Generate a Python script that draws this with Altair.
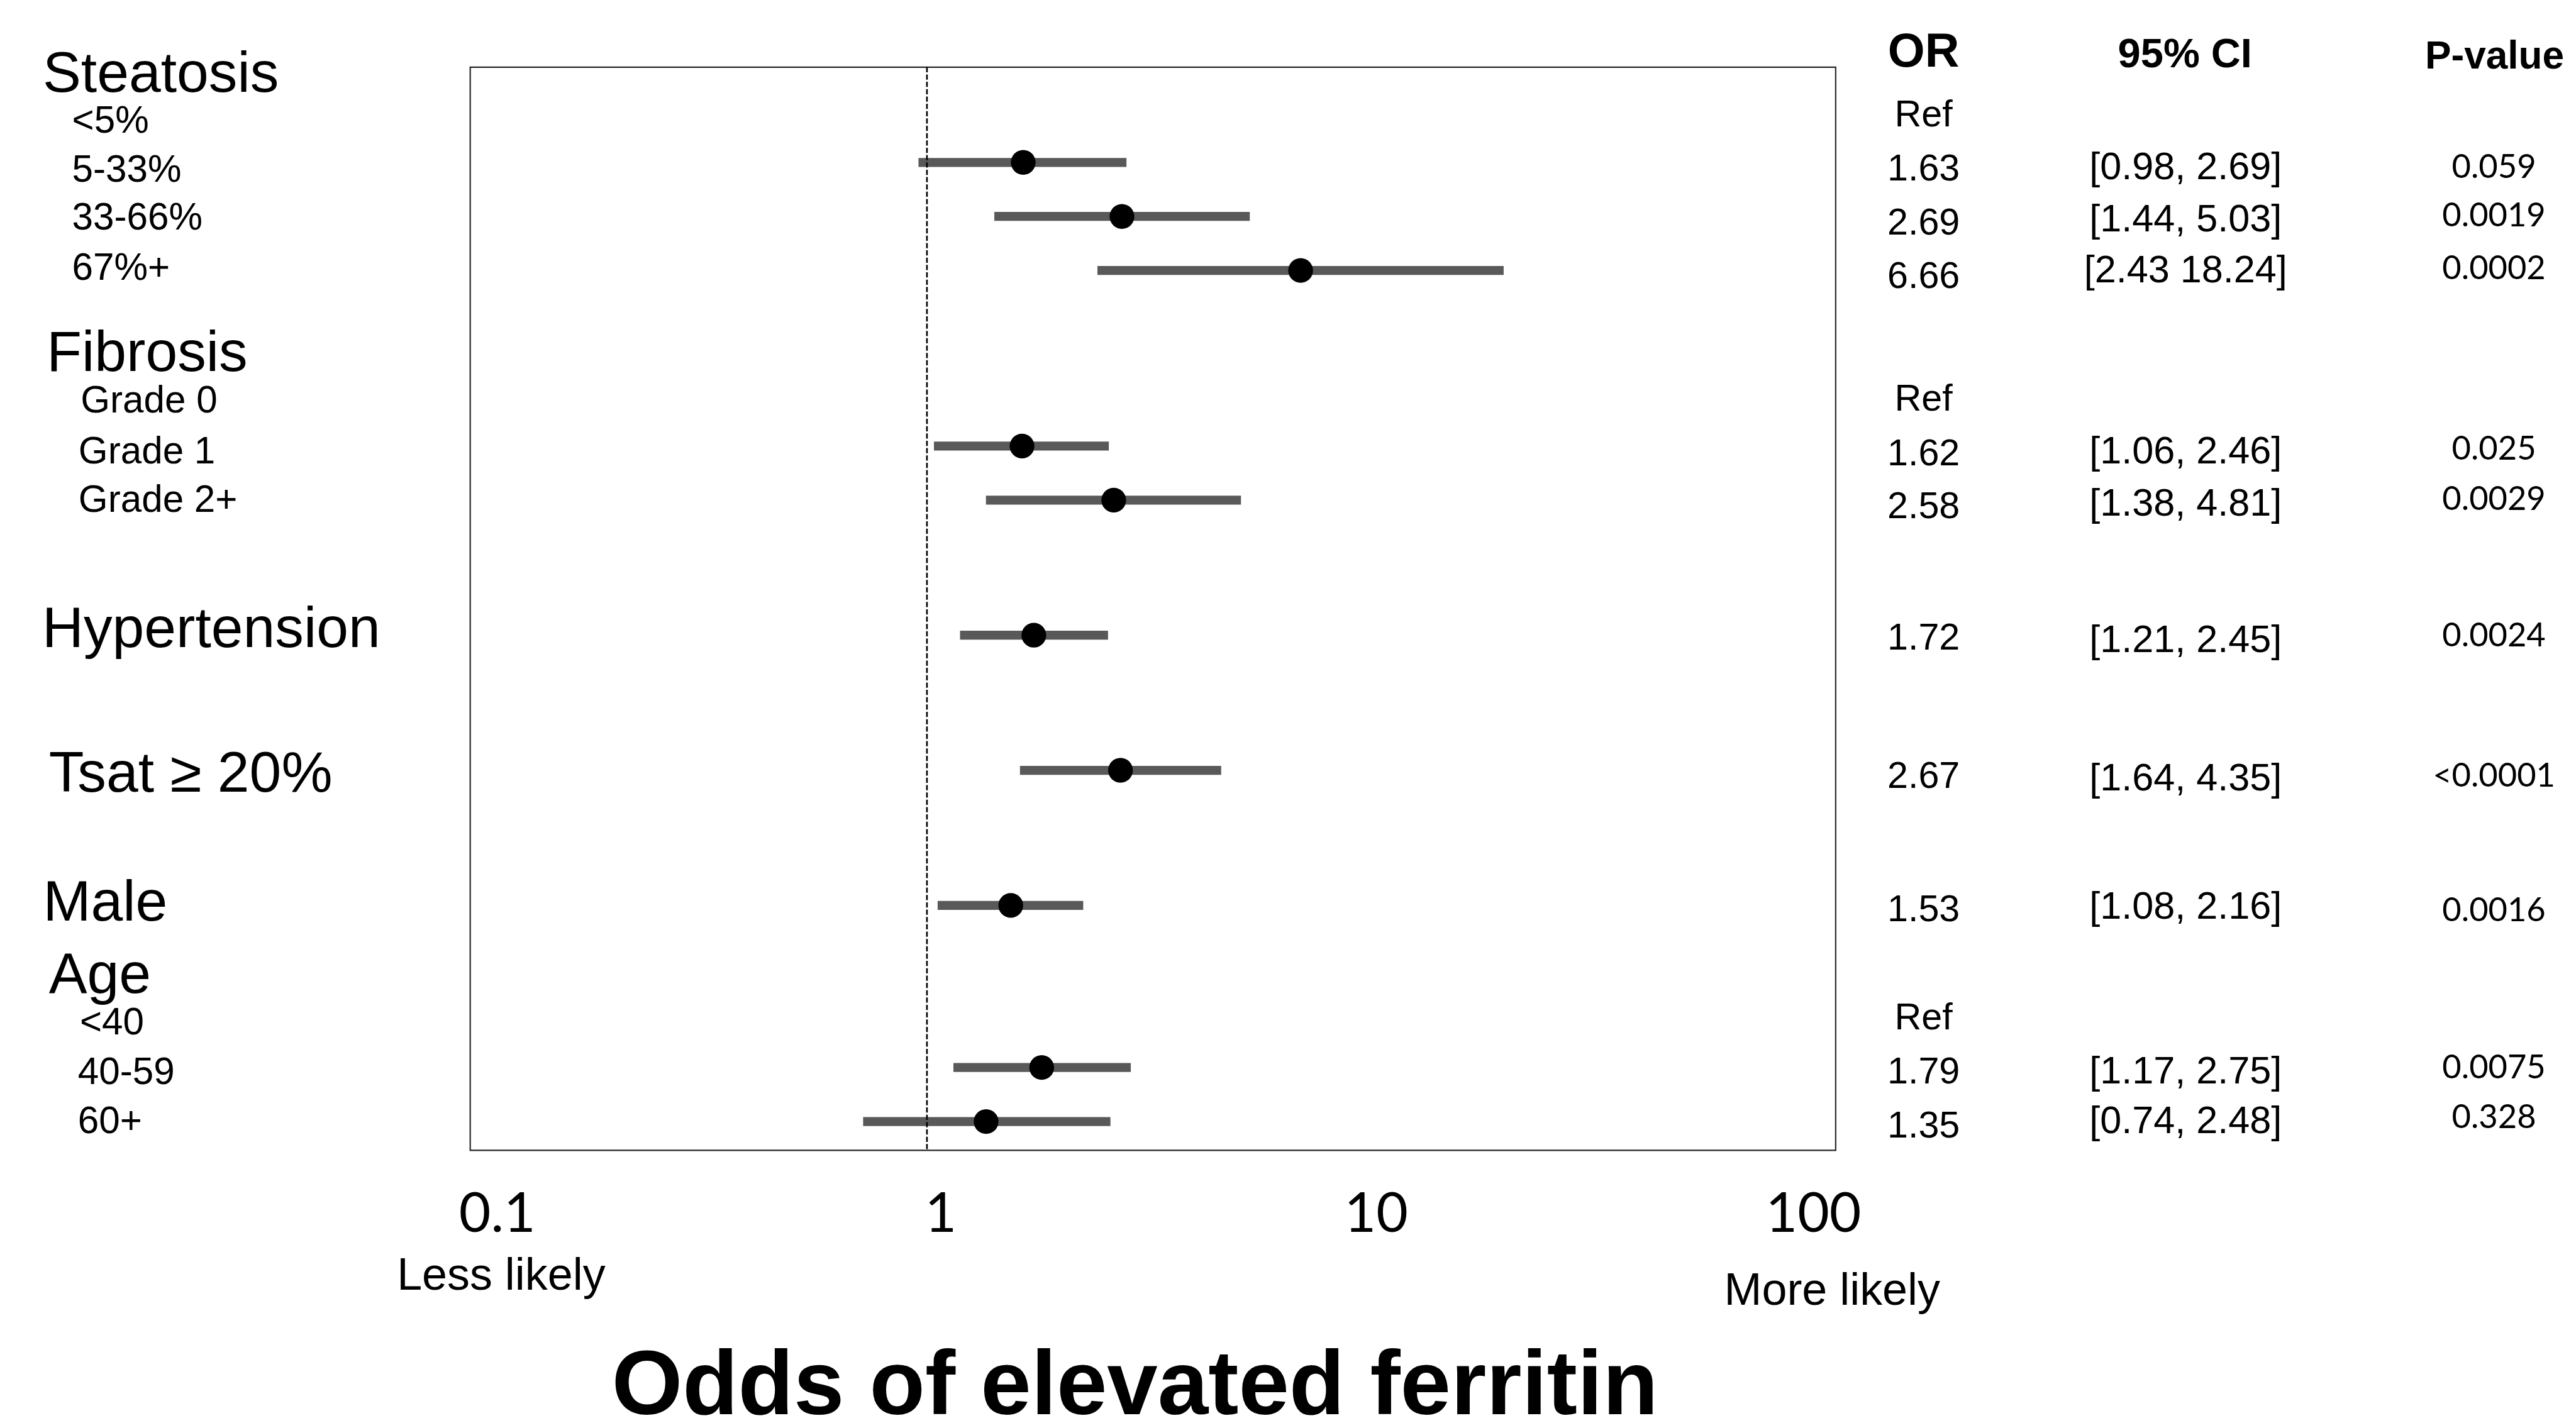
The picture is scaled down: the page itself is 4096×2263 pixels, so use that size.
import altair as alt
import pandas as pd

S = 0.971  # reference pixels -> window pixels

# ---------------- data ----------------
ROW_LABELS = ["5-33%", "33-66%", "67%+", "Grade 1", "Grade 2+", "Hypertension",
              "Tsat ≥ 20%", "Male", "40-59", "60+"]
OR_VALUES = [1.63, 2.69, 6.66, 1.62, 2.58, 1.72, 2.67, 1.53, 1.79, 1.35]
CI_LOW = [0.98, 1.44, 2.43, 1.06, 1.38, 1.21, 1.64, 1.08, 1.17, 0.74]
CI_HIGH = [2.69, 5.03, 18.24, 2.46, 4.81, 2.45, 4.35, 2.16, 2.75, 2.48]
CI_TEXT = ["[0.98, 2.69]", "[1.44, 5.03]", "[2.43 18.24]", "[1.06, 2.46]", "[1.38, 4.81]",
           "[1.21, 2.45]", "[1.64, 4.35]", "[1.08, 2.16]", "[1.17, 2.75]", "[0.74, 2.48]"]
P_TEXT = ["0.059", "0.0019", "0.0002", "0.025", "0.0029", "0.0024", "<0.0001",
          "0.0016", "0.0075", "0.328"]
GROUP_HEADERS = ["Steatosis", "Fibrosis", "Hypertension", "Tsat ≥ 20%", "Male", "Age"]
SUB_LABELS = ["<5%", "5-33%", "33-66%", "67%+", "Grade 0", "Grade 1", "Grade 2+",
              "<40", "40-59", "60+"]
REF_TEXT = ["Ref", "Ref", "Ref"]
TABLE_HEADERS = ["OR", "95% CI", "P-value"]
X_TICKS = [0.1, 1, 10, 100]
X_DOMAIN = [0.0985, 100.6]
NULL_VALUE = [1]
SIDE_NOTES = ["Less likely", "More likely"]
TITLE = ["Odds of elevated ferritin"]

# ---------------- layout (row slots and reference-pixel columns) ----------------
Y_DOMAIN = [-0.7627, 19.2825]
POINT_ROW = [1, 2, 3, 6.25, 7.25, 9.75, 12.25, 14.75, 17.75, 18.75]
HEADER_ROW = [-0.62, 4.55, 9.65, 12.33, 14.72, 16.06]
HEADER_X = [70, 76.5, 69, 80, 70.5, 80]
SUB_ROW = [0.24, 1.15, 2.03, 2.96, 5.42, 6.36, 7.26, 16.93, 17.85, 18.75]
SUB_X = [118, 118, 118, 118, 132, 128.6, 128.6, 130.7, 127.5, 127.5]
REF_ROW = [0.12, 5.38, 16.84]
OR_ROW = [1.13, 2.12, 3.12, 6.40, 7.37, 9.81, 12.37, 14.83, 17.83, 18.84]
CI_ROW = [1.10, 2.07, 3.01, 6.36, 7.33, 9.85, 12.41, 14.79, 17.83, 18.75]
P_ROW = [1.10, 2.00, 2.97, 6.32, 7.25, 9.77, 12.37, 14.86, 17.77, 18.68]
TH_ROW = [-1.04, -0.99, -0.96]
TH_X = [3150, 3578, 4085]
TH_SIZE = [78, 67, 64]
COL_OR_X, COL_CI_X, COL_P_X = 3150, 3579, 4084
BOX_L, BOX_T, BOX_R, BOX_B = 770, 110, 3006, 1884


def px(v):
    return round(v * S, 2)


def colx(xref):
    return px(xref - BOX_L)


def rowy(yref):
    return px(yref - BOX_T)


W = px(BOX_R - BOX_L)
H = px(BOX_B - BOX_T)
PAD_L = px(BOX_L) - 8
PAD_T = px(BOX_T) - 8
SVG_W = 4078
SVG_H = 2245.5

FONT = "Liberation Sans"
CAL = "Lato"

xscale = alt.Scale(type="log", domain=X_DOMAIN, nice=False)
yscale = alt.Scale(domain=Y_DOMAIN, reverse=True, nice=False, zero=False)

xaxis = alt.Axis(
    values=X_TICKS, format="~g", title=None, grid=False, domain=False, ticks=False,
    tickSize=0, labelFont=CAL, labelFontSize=px(90), labelColor="black",
    labelPadding=px(62.4), labelFlush=False, labelBaseline="top",
    labelOffset={"condition": [
        {"test": "datum.value < 0.5", "value": px(39)},
        {"test": "datum.value < 5", "value": px(22)},
        {"test": "datum.value < 50", "value": px(-8)}],
        "value": px(-35)},
)

df = pd.DataFrame({"label": ROW_LABELS, "or": OR_VALUES, "lo": CI_LOW,
                   "hi": CI_HIGH, "row": POINT_ROW})

ci = alt.Chart(df).mark_rule(color="#595959", strokeWidth=px(14.7), strokeCap="square").encode(
    x=alt.X("lo:Q", scale=xscale, axis=xaxis),
    x2="hi:Q",
    y=alt.Y("row:Q", scale=yscale, axis=None),
)

dashed = alt.Chart(pd.DataFrame({"v": NULL_VALUE})).mark_rule(
    color="black", strokeWidth=px(2.7), strokeDash=[px(8.5), px(3.5)]
).encode(x=alt.X("v:Q", scale=xscale, axis=xaxis))

points = alt.Chart(df).mark_circle(color="black", opacity=1, size=1548).encode(
    x=alt.X("or:Q", scale=xscale, axis=xaxis),
    y=alt.Y("row:Q", scale=yscale, axis=None),
)

# left labels
hdr_df = pd.DataFrame({"t": GROUP_HEADERS, "row": HEADER_ROW, "xp": [colx(v) for v in HEADER_X]})
headers = alt.Chart(hdr_df).mark_text(
    align="left", baseline="middle", font=FONT, fontSize=px(94), color="black"
).encode(x=alt.X("xp:Q", scale=None, axis=None), y=alt.Y("row:Q", scale=yscale, axis=None), text="t:N")

sub_df = pd.DataFrame({"t": SUB_LABELS, "row": SUB_ROW, "xp": [colx(v) for v in SUB_X]})
subs = alt.Chart(sub_df).mark_text(
    align="left", baseline="middle", font=FONT, fontSize=px(62), color="black"
).encode(x=alt.X("xp:Q", scale=None, axis=None), y=alt.Y("row:Q", scale=yscale, axis=None), text="t:N")

# table columns
or_df = pd.DataFrame({"t": REF_TEXT + [f"{v:.2f}" for v in OR_VALUES], "row": REF_ROW + OR_ROW})
or_col = alt.Chart(or_df).mark_text(
    align="center", baseline="middle", font=FONT, fontSize=px(61), color="black"
).encode(x=alt.value(colx(COL_OR_X)), y=alt.Y("row:Q", scale=yscale, axis=None), text="t:N")

ci_df = pd.DataFrame({"t": CI_TEXT, "row": CI_ROW})
ci_col = alt.Chart(ci_df).mark_text(
    align="center", baseline="middle", font=FONT, fontSize=px(63), color="black"
).encode(x=alt.value(colx(COL_CI_X)), y=alt.Y("row:Q", scale=yscale, axis=None), text="t:N")

p_df = pd.DataFrame({"t": P_TEXT, "row": P_ROW})
p_col = alt.Chart(p_df).mark_text(
    align="center", baseline="middle", font=CAL, fontSize=px(54), color="black"
).encode(x=alt.value(colx(COL_P_X)), y=alt.Y("row:Q", scale=yscale, axis=None), text="t:N")

th_layers = []
for t, r, xr, fs in zip(TABLE_HEADERS, TH_ROW, TH_X, TH_SIZE):
    th_layers.append(
        alt.Chart(pd.DataFrame({"t": [t], "row": [r]})).mark_text(
            align="center", baseline="middle", font=FONT, fontWeight="bold",
            fontSize=px(fs), color="black"
        ).encode(x=alt.value(colx(xr)), y=alt.Y("row:Q", scale=yscale, axis=None), text="t:N")
    )

less = alt.Chart(pd.DataFrame({"t": [SIDE_NOTES[0]]})).mark_text(
    align="left", baseline="alphabetic", font=FONT, fontSize=px(74), color="black"
).encode(x=alt.value(colx(650)), y=alt.value(rowy(2112)), text="t:N")

more = alt.Chart(pd.DataFrame({"t": [SIDE_NOTES[1]]})).mark_text(
    align="left", baseline="alphabetic", font=FONT, fontSize=px(74), color="black"
).encode(x=alt.value(colx(2823.5)), y=alt.value(rowy(2137)), text="t:N")

title = alt.Chart(pd.DataFrame({"t": TITLE})).mark_text(
    align="center", baseline="alphabetic", font=FONT, fontWeight="bold",
    fontSize=px(149), color="black"
).encode(x=alt.value(colx(1858.5)), y=alt.value(rowy(2316)), text="t:N")

chart = alt.layer(
    ci, dashed, points, headers, subs, or_col, ci_col, p_col, *th_layers, less, more, title
).properties(
    width=W, height=H,
    autosize=alt.AutoSizeParams(type="none"),
    padding={"left": PAD_L, "top": PAD_T, "right": round(SVG_W - PAD_L - W, 2),
             "bottom": round(SVG_H - PAD_T - H, 2)},
).configure_view(stroke="#262626", strokeWidth=px(2.2))

chart.save("out.html", embed_options={"renderer": "svg", "actions": False})
